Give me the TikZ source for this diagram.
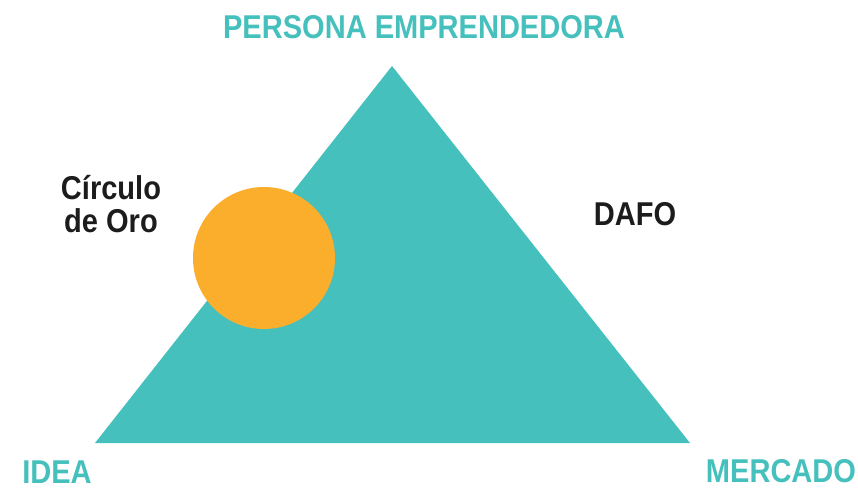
\documentclass[tikz,border=0pt]{standalone}
\usepackage{fontspec}
\setmainfont{Liberation Sans}[FakeStretch=0.88]
\usetikzlibrary{positioning}
\definecolor{teal}{HTML}{46C0BC}
\definecolor{oro}{HTML}{FBAD2C}
\definecolor{ink}{HTML}{1C1C1C}
\tikzset{
  corner/.style={text=teal,font=\fontsize{33}{38}\selectfont\bfseries,inner sep=0pt},
  tool/.style={text=ink,font=\fontsize{33}{38}\selectfont\bfseries,inner sep=0pt,align=center}
}

\begin{document}
\begin{tikzpicture}[x=1pt,y=1pt]
    \useasboundingbox (0,0) rectangle (858,490);
    \coordinate (apex) at (392,424);
    \coordinate (idea) at (95,47);
    \coordinate (mercado) at (690,47);

    \fill[teal] (apex) -- (mercado) -- (idea) -- cycle;
    \node[circle,fill=oro,minimum size=142pt,inner sep=0pt] (oro) at (264,232) {};

    \node[corner] (persona) at (424,463) {PERSONA EMPRENDEDORA};
    \node[corner] (lidea) at (57,18) {IDEA};
    \node[corner] (lmercado) at (781,19) {MERCADO};
    \node[tool] (circulo) at (111,286) {Círculo\\[-5pt]de Oro};
    \node[tool] (dafo) at (635,276) {DAFO};
  \end{tikzpicture}
\end{document}
